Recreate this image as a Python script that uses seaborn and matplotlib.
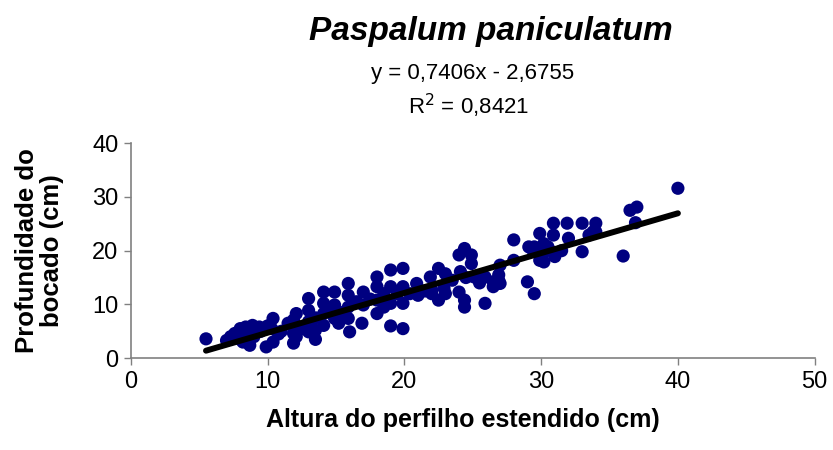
import numpy as np
import pandas as pd
import matplotlib.pyplot as plt
import seaborn as sns

# Altura do perfilho estendido (cm) / Profundidade do bocado (cm)
altura = [5.5, 7.0, 7.3, 7.6, 8.0, 8.0, 8.2, 8.4, 8.5, 8.7, 8.9, 9.0, 9.4, 9.5, 9.9,
          10.0, 10.3, 10.4, 10.4, 10.8, 11.0, 11.5, 11.9, 11.9, 11.9, 12.0, 12.1, 12.1, 12.5,
          13.0, 13.0, 13.0, 13.0, 13.5, 13.5, 13.5, 14.1, 14.1, 14.1, 14.1, 14.5, 14.9, 14.9,
          14.9, 15.2, 15.5, 15.9, 15.9, 15.9, 15.9, 16.0, 16.5, 16.9, 17.0, 17.0, 17.5, 18.0,
          18.0, 18.0, 18.0, 18.5, 18.5, 19.0, 19.0, 19.0, 19.0, 19.9, 19.5, 19.9, 19.9, 19.9,
          20.4, 20.9, 21.0, 21.5, 21.9, 22.0, 22.0, 22.5, 22.5, 23.0, 23.0, 22.9, 23.5, 24.0,
          24.4, 24.9, 24.9, 24.1, 24.0, 24.4, 24.4, 24.5, 25.1, 25.5, 25.9, 25.9, 26.5, 26.5,
          26.9, 27.0, 26.9, 27.0,
          28.0, 28.0, 29.0, 29.5, 29.1, 29.3, 29.5, 29.9, 29.9, 30.1, 30.2, 30.2, 30.5, 30.6,
          30.9, 30.9, 31.0, 31.0, 31.5, 31.9, 32.0, 33.0, 33.0, 33.5, 33.8, 34.0, 34.0, 36.0,
          36.5, 37.0, 36.9, 40.0]
profundidade = [3.6, 3.3, 4.0, 4.6, 5.5, 3.5, 3.0, 5.8, 4.5, 2.4, 6.1, 4.0, 5.8, 5.0, 2.1,
                6.0, 5.5, 7.4, 3.0, 4.5, 5.0, 6.5, 7.1, 4.6, 2.8, 6.0, 8.3, 4.0, 5.5,
                11.1, 8.9, 6.8, 4.9, 5.2, 3.5, 7.5, 12.3, 10.2, 8.3, 6.1, 9.0, 12.3, 9.9,
                7.4, 6.5, 8.5, 13.9, 11.7, 9.5, 7.4, 4.9, 10.5, 6.5, 12.3, 9.9, 11.0, 15.1,
                13.3, 10.8, 8.3, 12.0, 9.5, 16.4, 13.3, 10.2, 6.0, 5.5, 12.0, 16.7, 13.3, 10.2,
                12.0, 13.9, 11.7, 12.5, 15.1, 12.0, 12.7, 16.7, 10.8, 15.7, 12.0, 13.0, 14.5, 19.2,
                20.4, 19.2, 17.6, 16.1, 12.3, 10.8, 9.5, 15.0, 15.1, 14.0, 15.1, 10.2, 14.2, 13.3,
                14.5, 17.3, 15.5, 13.9,
                22.0, 18.2, 14.2, 12.0, 20.7, 20.4, 20.7, 23.2, 18.2, 19.5, 21.3, 17.9, 20.7, 20.1,
                25.1, 22.9, 18.9, 19.2, 20.0, 25.1, 22.3, 25.1, 19.8, 22.9, 23.5, 25.1, 23.5, 19.0,
                27.5, 28.1, 25.2, 31.6]

# equacao de ajuste do grafico original
slope = 0.7406
intercept = -2.6755
r2 = 0.8421

df = pd.DataFrame({'altura': altura, 'profundidade': profundidade})

sns.set_style('white')
plt.rcParams['font.family'] = ['Liberation Sans', 'DejaVu Sans']
plt.rcParams['text.color'] = 'black'
plt.rcParams['axes.labelcolor'] = 'black'

fig = plt.figure(figsize=(8.33, 4.5), dpi=100)
ax = fig.add_axes([0.157, 0.204, 0.821, 0.478])

sns.scatterplot(data=df, x='altura', y='profundidade', color='#000080', s=90,
                edgecolor='none', ax=ax, zorder=2)

xfit = np.array([min(altura), max(altura)])
fit = pd.DataFrame({'x': xfit, 'y': slope * xfit + intercept})
sns.lineplot(data=fit, x='x', y='y', color='black', linewidth=4.3, ax=ax,
             solid_capstyle='round', zorder=3)

ax.set_xlim(0, 50)
ax.set_ylim(0, 40)
ax.set_xticks(range(0, 51, 10))
ax.set_yticks(range(0, 41, 10))
ax.tick_params(axis='both', which='major', labelsize=17, length=5, width=1,
               color='#808080', labelcolor='black', direction='out', pad=4)
ax.tick_params(left=True, bottom=True)
sns.despine(ax=ax)
for s in ['left', 'bottom']:
    ax.spines[s].set_color('#808080')
    ax.spines[s].set_linewidth(1.2)

ax.set_xlabel('Altura do perfilho estendido (cm)', fontsize=18, fontweight='bold', labelpad=11)
ax.xaxis.label.set_x(0.485)
ax.set_ylabel('Profundidade do\nbocado (cm)', fontsize=18.5, fontweight='bold', labelpad=20,
              linespacing=1.05)

fig.text(0.589, 0.93, 'Paspalum paniculatum', fontsize=24, fontweight='bold',
         fontstyle='italic', ha='center', va='center')
fig.text(0.567, 0.837, 'y = 0,7406x - 2,6755', fontsize=16, ha='center', va='center')
fig.text(0.562, 0.765, 'R$^2$ = 0,8421', fontsize=16, ha='center', va='center')

plt.savefig('out.png', dpi=100)
